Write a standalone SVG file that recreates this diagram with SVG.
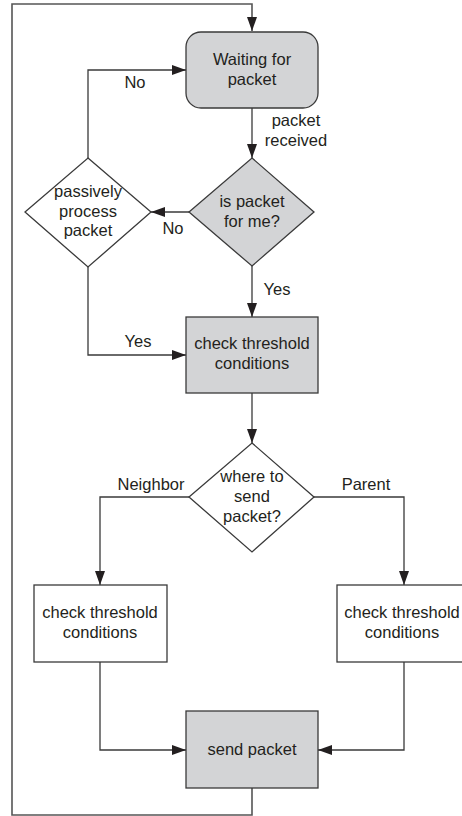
<svg xmlns="http://www.w3.org/2000/svg" width="462" height="816" viewBox="0 0 462 816">
<defs>
<marker id="ah" markerUnits="userSpaceOnUse" markerWidth="15" markerHeight="10" refX="14" refY="5" orient="auto">
<path d="M0,0 L14,5 L0,10 z" fill="#231f20"/>
</marker>
<style>
.box{stroke:#3a3a3a;stroke-width:1.3}
.gray{fill:#d3d4d6}
.white{fill:#ffffff}
.line{fill:none;stroke:#3a3a3a;stroke-width:1.3}
.loop{fill:none;stroke:#555555;stroke-width:1.6}
text{font-family:"Liberation Sans",Arial,sans-serif;font-size:16.5px;fill:#231f20;text-anchor:middle}
</style>
</defs>
<rect width="462" height="816" fill="#ffffff"/>
<g id="connectors">
<polyline class="loop" points="252,788 252,815 12,815 12,4 252,4 252,31" marker-end="url(#ah)"/>
<polyline class="line" points="252,108 252,158" marker-end="url(#ah)"/>
<polyline class="line" points="189,212 151,212" marker-end="url(#ah)"/>
<polyline class="line" points="88,158 88,70 186,70" marker-end="url(#ah)"/>
<polyline class="line" points="88,267 88,355 186,355" marker-end="url(#ah)"/>
<polyline class="line" points="252,266 252,317" marker-end="url(#ah)"/>
<polyline class="line" points="252,393 252,443" marker-end="url(#ah)"/>
<polyline class="line" points="189,497 100,497 100,585" marker-end="url(#ah)"/>
<polyline class="line" points="314,497 404,497 404,585" marker-end="url(#ah)"/>
<polyline class="line" points="100,662 100,750 186,750" marker-end="url(#ah)"/>
<polyline class="line" points="404,662 404,750 318,750" marker-end="url(#ah)"/>
<text x="135" y="88">No</text>
<text x="296" y="126">packet</text>
<text x="296" y="146">received</text>
<text x="173" y="234">No</text>
<text x="277" y="295">Yes</text>
<text x="138" y="347">Yes</text>
<text x="151" y="490">Neighbor</text>
<text x="366" y="490">Parent</text>
</g>
<g id="waiting">
<rect class="box gray" x="186" y="32" width="132" height="76" rx="15" ry="15"/>
<text x="252" y="65">Waiting for</text>
<text x="252" y="85">packet</text>
</g>
<g id="forme">
<polygon class="box gray" points="252,158 314,212 252,266 189,212"/>
<text x="252" y="207">is packet</text>
<text x="252" y="227">for me?</text>
</g>
<g id="passive">
<polygon class="box white" points="88,158 151,212 88,267 25,212"/>
<text x="88" y="197">passively</text>
<text x="88" y="217">process</text>
<text x="88" y="236">packet</text>
</g>
<g id="check1">
<rect class="box gray" x="186" y="317" width="132" height="76"/>
<text x="252" y="349">check threshold</text>
<text x="252" y="369">conditions</text>
</g>
<g id="where">
<polygon class="box white" points="252,443 314,497 252,552 189,497"/>
<text x="252" y="482">where to</text>
<text x="252" y="502">send</text>
<text x="252" y="522">packet?</text>
</g>
<g id="checkleft">
<rect class="box white" x="34" y="585" width="133" height="77"/>
<text x="100" y="618">check threshold</text>
<text x="100" y="638">conditions</text>
</g>
<g id="checkright">
<rect class="box white" x="337" y="585" width="133" height="77"/>
<text x="402" y="618">check threshold</text>
<text x="402" y="638">conditions</text>
</g>
<g id="send">
<rect class="box gray" x="186" y="711" width="132" height="77"/>
<text x="252" y="755">send packet</text>
</g>
</svg>
